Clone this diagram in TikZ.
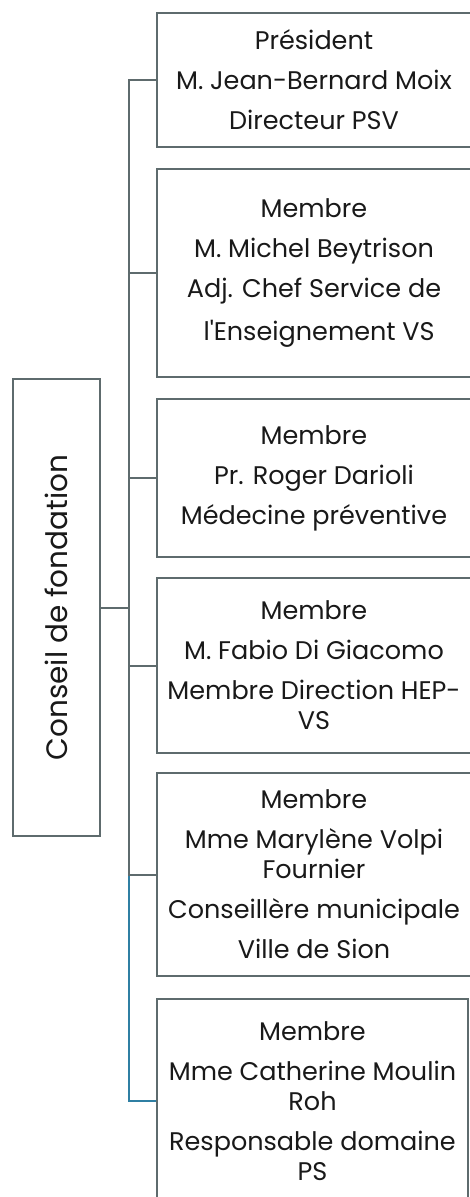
\documentclass[tikz,border=0pt]{standalone}
\usepackage{fontspec}
\setmainfont{Poppins}[Ligatures=TeXOff]
\definecolor{linegrey}{HTML}{5E6B6D}
\definecolor{lineblue}{HTML}{2F7FA3}
\begin{document}
\begin{tikzpicture}[x=1pt,y=-1pt,
  box/.style={draw=linegrey, line width=2pt, inner sep=0pt, align=center,
    text=black!90, font=\fontsize{25.5}{30}\selectfont},
  conn/.style={draw=linegrey, line width=2pt},
  connsel/.style={draw=lineblue, line width=2pt}]
\useasboundingbox (0,0) rectangle (470,1197);
\clip (0,0) rectangle (470,1197);
\node[box, minimum width=314pt, minimum height=134pt] (b1) at (314,80)
  {Président\\[10pt]M. Jean-Bernard Moix\\[10pt]Directeur PSV};
\node[box, minimum width=314pt, minimum height=208pt] (b2) at (314,273)
  {Membre\\[10pt]M. Michel Beytrison\\[10pt]Adj. Chef Service de\\[13pt]\hspace*{0.4em}l'Enseignement VS};
\node[box, minimum width=314pt, minimum height=158pt] (b3) at (314,478)
  {Membre\\[10pt]Pr. Roger Darioli\\[10pt]Médecine préventive};
\node[box, minimum width=314pt, minimum height=175pt] (b4) at (314,665.5)
  {Membre\\[10pt]M. Fabio Di Giacomo\\[10pt]Membre Direction HEP-\\VS};
\node[box, minimum width=314pt, minimum height=203pt] (b5) at (314,874.5)
  {Membre\\[10pt]Mme Marylène Volpi\\Fournier\\[10pt]Conseillère municipale\\[10pt]Ville de Sion};
\node[box, minimum width=311pt, minimum height=204pt] (b6) at (312.5,1101)
  {Membre\\[10pt]Mme Catherine Moulin\\Roh\\[10pt]Responsable domaine\\PS};
\node[box, minimum width=87pt, minimum height=457pt, font=\fontsize{29.5}{36}\selectfont] (c) at (56.5,607.5)
  {\rotatebox{90}{Conseil de fondation}};
\coordinate (tr) at (129,607.5);
\draw[connsel] (c.east) -- (c.east -| tr) |- (b6.west);
\foreach \b in {b1,b2,b3,b4,b5}
  \draw[conn] (c.east) -- (c.east -| tr) |- (\b.west);
\end{tikzpicture}
\end{document}
